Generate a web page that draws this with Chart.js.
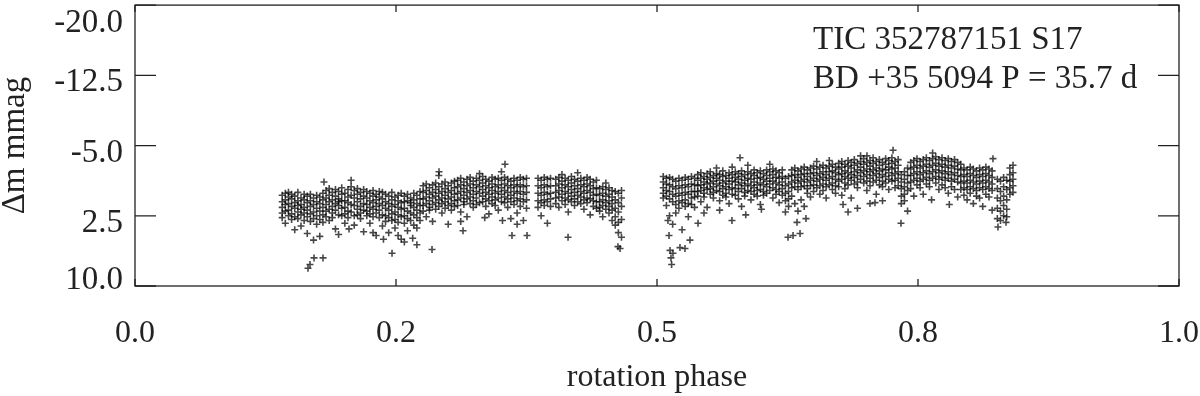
<!DOCTYPE html>
<html>
<head>
<meta charset="utf-8">
<script src="https://cdn.jsdelivr.net/npm/chart.js@4.4.0/dist/chart.umd.min.js"></script>
<style>
  html, body { margin: 0; padding: 0; background: #fff; }
  #wrap { width: 1200px; height: 396px; }
</style>
</head>
<body>
<div id="wrap"><canvas id="lightCurve" width="1200" height="396"></canvas></div>
<script>
'use strict'

const phaseTicks = [0, 0.25, 0.5, 0.75, 1.0]
const phaseTickLabels = ['0.0', '0.2', '0.5', '0.8', '1.0']
const magTicks = [-20, -12.5, -5, 2.5, 10]
const magTickLabels = ['-20.0', '-12.5', '-5.0', '2.5', '10.0']
const starLabel = ['TIC 352787151 S17', 'BD +35 5094 P = 35.7 d']

// phase of each narrow column of points
const columnPhase = [
  0.141, 0.144, 0.147, 0.150, 0.153, 0.156, 0.159, 0.162,
  0.165, 0.168, 0.171, 0.174, 0.177, 0.180,
  0.183, 0.186, 0.189, 0.192, 0.195, 0.198, 0.201, 0.204, 0.207, 0.210, 0.213, 0.216, 0.219,
  0.222, 0.225, 0.228, 0.231, 0.234, 0.237,
  0.240, 0.243, 0.246, 0.249, 0.252, 0.255, 0.258, 0.261, 0.264, 0.267, 0.270, 0.273,
  0.276, 0.279, 0.282, 0.285, 0.288, 0.291, 0.294, 0.297, 0.300, 0.303, 0.306,
  0.309, 0.312, 0.315, 0.318, 0.321, 0.324, 0.327, 0.330, 0.333, 0.336, 0.339, 0.342,
  0.345, 0.348, 0.351, 0.354, 0.357, 0.360, 0.363, 0.366, 0.369, 0.372, 0.375,
  0.386, 0.389, 0.392, 0.395, 0.398,
  0.403, 0.406, 0.409, 0.412, 0.415, 0.418, 0.421, 0.424, 0.427, 0.430, 0.433, 0.436, 0.439, 0.442,
  0.445, 0.448, 0.451, 0.454, 0.457,
  0.460, 0.463, 0.466,
  0.506, 0.509, 0.512,
  0.515, 0.518, 0.521, 0.524, 0.527, 0.530, 0.533, 0.536,
  0.539, 0.542, 0.545, 0.548, 0.551, 0.554, 0.557, 0.560, 0.563, 0.566, 0.569, 0.572, 0.575, 0.578,
  0.581, 0.584, 0.587, 0.590, 0.593, 0.596, 0.599, 0.602, 0.605, 0.608, 0.611, 0.614, 0.617, 0.620,
  0.623, 0.626,
  0.629, 0.632, 0.635, 0.638, 0.641, 0.644, 0.647, 0.650, 0.653, 0.656, 0.659, 0.662, 0.665, 0.668, 0.671,
  0.674, 0.677, 0.680, 0.683, 0.686, 0.689, 0.692, 0.695, 0.698, 0.701,
  0.704, 0.707, 0.710, 0.713, 0.716, 0.719, 0.722, 0.725, 0.728, 0.731,
  0.734, 0.737, 0.740,
  0.743, 0.746, 0.749, 0.752, 0.755, 0.758, 0.761, 0.764, 0.767, 0.770, 0.773, 0.776, 0.779, 0.782,
  0.785, 0.788, 0.791,
  0.794, 0.797, 0.800, 0.803, 0.806, 0.809, 0.812, 0.815, 0.818, 0.821,
  0.826, 0.829, 0.832, 0.835,
  0.838, 0.841
]

// delta mag (mmag) of the points in each column
const columnMag = [
  [0.3, 1.0, 1.6, 2.2, 2.7], [0.1, 0.8, 1.3, 2.0, 3.3], [0.5, 1.2, 1.9, 2.5, 0.0], [0.2, 0.7, 1.5, 2.3, 2.9],
  [0.4, 1.1, 1.7, 2.6, 4.0], [0.0, 0.9, 1.4, 2.1, 2.8], [0.6, 1.3, 1.8, 2.4, 3.6], [0.2, 0.8, 1.6, 2.2, 3.0],
  [0.4, 1.1, 1.9, 2.6, 4.4], [0.2, 0.9, 1.5, 2.3, 3.1], [0.6, 1.3, 2.1, 2.8, 5.1], [0.3, 1.0, 1.7, 2.5, 3.4],
  [0.5, 1.2, 2.0, 2.9, 4.7], [0.1, 0.8, 1.6, 2.4, 3.2],
  [-0.2, 0.6, 1.3, 2.0, 2.6], [-0.4, 0.3, 1.0, 1.8, 3.0], [0.0, 0.8, 1.5, 2.2, 2.7], [-0.3, 0.4, 1.2, 1.9, 3.9],
  [-0.1, 0.7, 1.4, 2.4, 1.0], [-0.5, 0.2, 0.9, 1.7, 2.5], [0.1, 0.9, 1.6, 2.3, 3.3], [-0.3, 0.5, 1.1, 2.0, 2.7],
  [-0.6, 0.3, 1.3, 2.1, -1.3], [-0.2, 0.6, 1.4, 2.5, 3.5], [-0.4, 0.2, 1.0, 1.8, 2.4], [0.0, 0.7, 1.5, 2.2, 2.8],
  [-0.3, 0.4, 1.2, 1.9, 4.2],
  [-0.1, 0.6, 1.3, 2.0, 2.5], [0.1, 0.9, 1.6, 2.3, 3.3], [-0.2, 0.4, 1.1, 1.8, 2.6], [0.2, 0.8, 1.5, 2.2, 4.6],
  [-0.1, 0.5, 1.2, 1.9, 2.7], [0.0, 0.7, 1.4, 2.4, 3.6],
  [0.2, 1.0, 1.7, 2.5, 3.1], [0.4, 1.2, 1.9, 2.7, 4.3], [0.0, 0.8, 1.5, 2.3, 3.0], [0.5, 1.3, 2.1, 2.9, 3.8],
  [0.3, 0.9, 1.6, 2.4, 3.2], [0.1, 1.1, 1.8, 2.6, 5.0], [0.4, 1.0, 1.7, 2.5, 3.3], [0.2, 0.9, 2.0, 2.8, 4.1],
  [0.6, 1.4, 2.2, 3.0, 1.1], [0.1, 0.8, 1.6, 2.4, 3.5], [0.3, 1.2, 1.9, 2.7, 5.6], [-0.1, 0.7, 1.4, 2.2, 3.0],
  [-0.7, 0.0, 0.7, 1.4, 2.0], [-0.9, -0.2, 0.5, 1.2, 2.6], [-0.5, 0.2, 0.9, 1.6, 1.9], [-0.8, 0.0, 0.6, 1.3, 3.1],
  [-1.0, -0.3, 0.4, 1.1, 1.8], [-0.6, 0.1, 0.8, 1.5, -1.8], [-0.9, -0.1, 0.6, 1.2, 2.2], [-1.1, -0.4, 0.3, 1.0, 1.7],
  [-0.7, 0.0, 0.7, 1.4, 3.4], [-1.0, -0.2, 0.5, 1.2, 1.9], [-1.2, -0.5, 0.2, 0.9, 1.5],
  [-1.3, -0.6, 0.1, 0.8, 1.4], [-1.5, -0.8, -0.1, 0.6, 2.1], [-1.1, -0.4, 0.3, 1.0, 1.3], [-1.4, -0.7, 0.0, 0.7, 2.6],
  [-1.6, -0.9, -0.2, 0.5, 1.2], [-1.2, -0.5, 0.2, 0.9, 1.6], [-1.5, -0.8, -0.1, 0.6, 1.3], [-1.3, -0.6, 0.1, 1.1, -2.0],
  [-1.7, -1.0, -0.3, 0.4, 1.0], [-1.4, -0.7, 0.0, 0.7, 1.5], [-1.2, -0.5, 0.2, 0.9, 2.3], [-1.6, -0.9, -0.2, 0.5, 1.2],
  [-1.4, -0.6, 0.1, 0.8, 1.4], [-1.5, -0.8, -0.1, 0.6, 1.9], [-1.3, -0.5, 0.2, 1.0, -2.2], [-1.6, -0.9, -0.2, 0.5, 1.1],
  [-1.4, -0.7, 0.0, 0.7, 1.6], [-1.2, -0.5, 0.3, 1.0, 2.8], [-1.5, -0.8, -0.1, 0.6, 1.3], [-1.3, -0.6, 0.1, 0.9, 2.2],
  [-1.6, -0.8, -0.1, 0.7, 1.5], [-1.4, -0.6, 0.2, 1.0, 3.0], [-1.5, -0.7, 0.0, 0.8, 1.7],
  [-1.5, -0.7, 0.1, 0.9, 1.6], [-1.3, -0.5, 0.3, 1.1, 2.5], [-1.6, -0.8, 0.0, 0.8, 1.4], [-1.4, -0.6, 0.2, 1.0, 3.3],
  [-1.5, -0.7, 0.1, 0.7, 1.5],
  [-1.4, -0.7, 0.0, 0.6, 1.2], [-1.6, -0.9, -0.2, 0.5, 1.6], [-1.2, -0.5, 0.2, 0.9, -1.9], [-1.5, -0.8, -0.1, 0.6, 1.3],
  [-1.3, -0.6, 0.1, 0.8, 2.1], [-1.7, -1.0, -0.3, 0.4, 1.0], [-1.4, -0.7, 0.0, 0.7, 1.4], [-1.2, -0.4, 0.3, 1.0, -2.1],
  [-1.5, -0.8, -0.1, 0.5, 1.2], [-1.3, -0.6, 0.1, 0.8, 1.8], [-1.6, -0.9, -0.2, 0.6, 1.1], [-1.4, -0.7, 0.0, 0.7, 2.4],
  [-1.1, -0.4, 0.3, 0.9, 1.5], [-1.3, -0.5, 0.2, 1.0, 1.7],
  [-0.4, 0.3, 1.0, 1.6, 2.0], [-0.6, 0.1, 0.8, 1.4, 2.6], [-0.3, 0.4, 1.1, 1.8, -1.0], [-0.5, 0.2, 0.9, 1.5, 2.2],
  [-0.2, 0.5, 1.2, 1.9, 3.0],
  [-0.1, 0.8, 1.7, 2.6, 3.5], [0.1, 1.1, 2.1, 3.2, 4.3], [-0.2, 0.6, 1.5, 2.9, 4.8],
  [-1.7, -1.1, -0.5, 0.1, 0.6], [-1.5, -0.9, -0.2, 0.4, 1.4], [-1.6, -0.8, -0.1, 0.7, 2.5],
  [-1.4, -0.6, 0.2, 1.0, 3.4], [-1.2, -0.4, 0.4, 1.3, 2.2], [-1.5, -0.7, 0.1, 0.9, 1.7], [-1.3, -0.5, 0.3, 1.1, 4.0],
  [-1.6, -0.8, 0.0, 0.8, 1.5], [-1.4, -0.6, 0.2, 1.2, 2.6], [-1.7, -0.9, -0.1, 0.6, 1.3], [-1.5, -0.8, -0.1, 0.5, 1.6],
  [-1.9, -1.3, -0.7, -0.1, 0.4], [-2.1, -1.5, -0.8, -0.2, 1.0], [-1.7, -1.1, -0.5, 0.1, 0.5], [-2.0, -1.4, -0.9, -0.3, 1.6],
  [-2.2, -1.6, -1.0, -0.4, 0.2], [-1.8, -1.2, -0.6, 0.0, 0.6], [-2.0, -1.5, -0.9, -0.2, -2.6], [-1.9, -1.3, -0.7, -0.1, 0.9],
  [-2.3, -1.7, -1.0, -0.4, 0.3], [-1.8, -1.2, -0.6, 0.1, 0.5], [-2.1, -1.5, -0.9, -0.3, 1.2], [-1.9, -1.2, -0.5, 0.2, -2.7],
  [-2.2, -1.6, -1.1, -0.4, 0.3], [-2.0, -1.4, -0.8, -0.1, 0.7],
  [-2.3, -1.7, -1.0, -0.4, 1.5], [-1.9, -1.3, -0.7, 0.0, 0.4], [-2.2, -1.5, -0.9, -0.2, -2.9], [-2.0, -1.4, -0.7, -0.1, 0.8],
  [-2.4, -1.8, -1.1, -0.5, 0.2], [-2.1, -1.5, -0.8, -0.2, 0.4], [-2.3, -1.6, -1.0, -0.3, 1.3], [-2.0, -1.4, -0.8, -0.1, 0.3],
  [-2.4, -1.8, -1.2, -0.6, 0.1], [-2.2, -1.5, -0.9, -0.2, -3.0], [-2.5, -1.9, -1.2, -0.5, 0.6], [-2.3, -1.6, -1.0, -0.3, 0.2],
  [-2.1, -1.5, -0.8, -0.1, 1.1], [-2.4, -1.7, -1.1, -0.4, 0.3],
  [-1.5, -0.7, 0.1, 0.9, 2.1], [-1.7, -0.9, -0.1, 0.7, 1.5],
  [-2.4, -1.8, -1.1, -0.5, 0.4], [-2.6, -1.9, -1.3, -0.6, 1.2], [-2.3, -1.6, -1.0, -0.3, 2.0], [-2.5, -1.9, -1.2, -0.6, 0.8],
  [-2.7, -2.0, -1.4, -0.7, 1.5], [-2.4, -1.7, -1.1, -0.4, 0.1], [-2.6, -2.0, -1.3, -0.7, 0.5], [-2.8, -2.1, -1.5, -0.8, -0.1],
  [-2.5, -1.8, -1.2, -0.5, -3.3], [-2.7, -2.0, -1.4, -0.7, 0.2], [-2.9, -2.2, -1.6, -0.9, -0.2], [-2.6, -1.9, -1.3, -0.6, 0.6],
  [-2.8, -2.2, -1.5, -0.8, -3.4], [-3.0, -2.3, -1.7, -1.0, -0.3], [-2.7, -2.1, -1.4, -0.7, 0.1],
  [-3.1, -2.5, -1.9, -1.2, -0.6], [-3.3, -2.7, -2.0, -1.4, 0.3], [-3.0, -2.3, -1.7, -1.0, -0.4], [-3.4, -2.8, -2.1, -1.5, -0.8],
  [-3.2, -2.6, -1.9, -1.3, 0.6], [-3.5, -2.9, -2.2, -1.6, -0.9], [-3.1, -2.4, -1.8, -1.1, -0.5], [-3.3, -2.7, -2.1, -1.4, -3.9],
  [-3.6, -3.0, -2.3, -1.7, -1.0], [-3.2, -2.5, -1.9, -1.2, -0.2],
  [-3.4, -2.8, -2.2, -1.5, -0.7], [-3.7, -3.1, -2.4, -1.8, -1.1], [-3.3, -2.6, -2.0, -1.3, 0.2], [-3.5, -2.9, -2.3, -1.6, -0.8],
  [-3.2, -2.5, -1.9, -1.2, -0.6], [-3.6, -3.0, -2.4, -1.7, -1.0], [-3.4, -2.7, -2.1, -1.4, -0.3], [-3.7, -3.1, -2.5, -1.8, -1.2],
  [-3.3, -2.6, -2.0, -1.3, -0.5], [-3.5, -2.9, -2.2, -1.5, -0.7],
  [-1.9, -1.1, -0.4, 0.4, 1.2], [-2.2, -1.4, -0.6, 0.2, 0.9], [-2.6, -1.8, -1.0, -0.2, 2.0],
  [-3.2, -2.5, -1.8, -1.1, -0.4], [-3.4, -2.7, -2.0, -1.3, 0.4], [-3.6, -2.9, -2.2, -1.5, -0.8], [-3.3, -2.6, -1.9, -1.2, -0.5],
  [-3.5, -2.8, -2.1, -1.4, 0.2], [-3.7, -3.0, -2.3, -1.6, -0.9], [-3.4, -2.7, -2.0, -1.3, -0.6], [-3.6, -2.9, -2.2, -1.5, -4.2],
  [-3.8, -3.1, -2.4, -1.7, -1.0], [-3.5, -2.8, -2.1, -1.4, -0.3], [-3.7, -3.0, -2.3, -1.6, -0.8], [-3.4, -2.7, -2.0, -1.3, -0.5],
  [-3.6, -2.9, -2.2, -1.5, 0.1], [-3.3, -2.6, -1.9, -1.2, -0.6],
  [-3.5, -2.8, -2.1, -1.4, -0.3], [-3.2, -2.5, -1.8, -1.1, 0.5], [-3.0, -2.4, -1.7, -1.0, -0.3],
  [-2.6, -1.9, -1.2, -0.5, 0.3], [-2.4, -1.7, -1.0, -0.3, 0.8], [-2.7, -2.0, -1.3, -0.6, 0.1], [-2.5, -1.8, -1.1, -0.4, 1.2],
  [-2.3, -1.6, -0.9, -0.2, 0.4], [-2.6, -1.9, -1.2, -0.5, 0.6], [-2.4, -1.7, -1.0, -0.3, 1.5], [-2.7, -2.0, -1.3, -0.6, 0.2],
  [-2.5, -1.8, -1.1, -0.4, 0.5], [-2.3, -1.6, -0.9, -0.2, 1.9],
  [-1.4, -0.4, 0.6, 1.7, 2.8], [-1.2, -0.1, 0.9, 2.0, 3.0], [-1.6, -0.6, 0.4, 1.4, 2.5], [-1.3, -0.3, 0.8, 1.8, 2.6],
  [-2.6, -1.9, -1.2, -0.5, 0.2], [-2.9, -2.1, -1.4, -0.7, 0.0]
]

// isolated points away from the main band
const strayPhase = [
  0.1657, 0.1676, 0.1715, 0.1801, 0.1810, 0.195, 0.205, 0.228, 0.238, 0.2462,
  0.252, 0.258, 0.266, 0.270, 0.2845, 0.2912, 0.312, 0.3142, 0.335, 0.352,
  0.3544, 0.3611, 0.366, 0.3755, 0.4148, 0.4626, 0.4646, 0.5105, 0.5115, 0.5125,
  0.5134, 0.5140, 0.5153, 0.5220, 0.5268, 0.5316, 0.5393, 0.545, 0.560, 0.5718,
  0.5795, 0.585, 0.600, 0.6255, 0.6303, 0.6341, 0.6370, 0.6427, 0.6782, 0.6830,
  0.692, 0.7011, 0.704, 0.7088, 0.716, 0.7261, 0.7337, 0.763, 0.780, 0.8218,
  0.8266, 0.8343
]
const strayMag = [
  8.1, 7.7, 7.0, 7.0, -1.1, 4.5, 3.9, 4.3, 5.0, 6.5,
  4.6, 5.3, 4.9, 3.8, 6.1, -2.2, 3.1, 4.1, 2.7, 3.0,
  -3.0, 4.6, 3.4, 4.6, 4.8, 5.8, 6.0, 3.0, 4.6, 6.2,
  7.0, 7.7, 6.5, 5.9, 6.0, 5.1, 3.3, 2.2, 1.9, 3.0,
  -3.7, 2.4, 1.8, 4.8, 4.6, 3.2, 4.4, 2.8, 1.3, 2.1,
  1.7, -3.9, 1.2, 1.1, 0.9, -4.5, 3.3, 0.8, 1.3, -3.6,
  3.7, 3.2
]

const points = []
columnPhase.forEach((p, i) => {
  columnMag[i].forEach((m) => points.push({ x: p, y: m }))
})
strayPhase.forEach((p, i) => points.push({ x: p, y: strayMag[i] }))

const ink = '#222'
const serif = '"Liberation Serif", "Times New Roman", serif'

// frame, inward ticks, y labels and the star label
const frameAndLabels = {
  id: 'frameAndLabels',
  afterDraw(chart) {
    const { ctx, chartArea: a, scales: { x, y } } = chart
    ctx.save()
    ctx.strokeStyle = ink
    ctx.lineWidth = 1.3
    ctx.strokeRect(a.left, a.top, a.right - a.left, a.bottom - a.top)
    ctx.beginPath()
    magTicks.forEach((v) => {
      const py = y.getPixelForValue(v)
      ctx.moveTo(a.left, py); ctx.lineTo(a.left + 21, py)
      ctx.moveTo(a.right, py); ctx.lineTo(a.right - 21, py)
    })
    phaseTicks.forEach((v) => {
      const px = x.getPixelForValue(v)
      ctx.moveTo(px, a.bottom); ctx.lineTo(px, a.bottom - 7)
      ctx.moveTo(px, a.top); ctx.lineTo(px, a.top + 7)
    })
    ctx.stroke()

    ctx.fillStyle = ink
    ctx.font = '33px ' + serif
    ctx.textAlign = 'right'
    ctx.textBaseline = 'middle'
    magTicks.forEach((v, i) => {
      const py = Math.min(Math.max(y.getPixelForValue(v) + 7.5, a.top + 18), a.bottom - 6)
      ctx.fillText(magTickLabels[i], a.left - 12, py)
    })

    ctx.textAlign = 'left'
    ctx.textBaseline = 'alphabetic'
    const lx = x.getPixelForValue(0.6495)
    ctx.fillText(starLabel[0], lx, a.top + 44)
    ctx.fillText(starLabel[1], lx, a.top + 82.5)
    ctx.restore()
  }
}

const ctx = document.getElementById('lightCurve')

new Chart(ctx, {
  type: 'scatter',
  data: {
    datasets: [{
      data: points,
      pointStyle: 'cross',
      pointRadius: 3.5,
      pointBorderWidth: 1.6,
      pointBorderColor: 'rgba(0, 0, 0, 0.72)',
      pointBackgroundColor: 'rgba(0, 0, 0, 0.72)',
      pointHoverRadius: 3.5
    }]
  },
  options: {
    responsive: false,
    animation: false,
    devicePixelRatio: 1,
    layout: { padding: { top: 1, right: 21, left: 0, bottom: 0 } },
    plugins: { legend: { display: false }, tooltip: { enabled: false } },
    scales: {
      x: {
        type: 'linear',
        min: 0,
        max: 1,
        grid: { display: false },
        border: { display: false },
        afterBuildTicks: (scale) => { scale.ticks = phaseTicks.map((v) => ({ value: v })) },
        afterFit: (scale) => {
          scale.height = 110
          scale.paddingLeft = 0
          scale.paddingRight = 0
        },
        ticks: {
          autoSkip: false,
          maxRotation: 0,
          padding: 20,
          color: ink,
          font: { family: serif, size: 32 },
          callback: (value, index) => phaseTickLabels[index]
        },
        title: {
          display: true,
          text: 'rotation phase',
          color: ink,
          padding: { bottom: -1 },
          font: { family: serif, size: 32 }
        }
      },
      y: {
        type: 'linear',
        min: -20,
        max: 10,
        reverse: true,
        grid: { display: false },
        border: { display: false },
        afterFit: (scale) => { scale.width = 135 },
        ticks: { display: false },
        title: {
          display: true,
          text: 'Δm mmag',
          color: ink,
          padding: { top: -4 },
          font: { family: serif, size: 33 }
        }
      }
    }
  },
  plugins: [frameAndLabels]
})
</script>
</body>
</html>
